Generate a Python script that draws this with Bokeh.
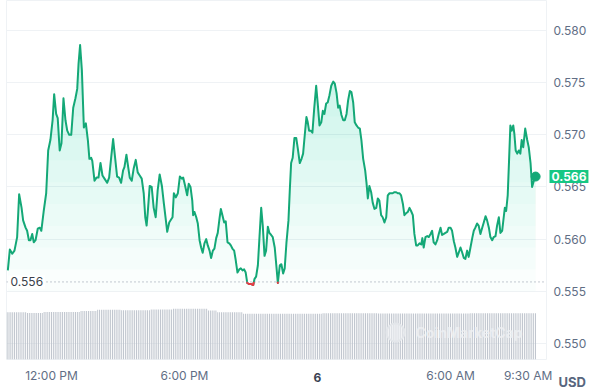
import numpy as np
from bokeh.plotting import figure
from bokeh.models import Range1d, LinearAxis, FixedTicker, Span, Label, Grid, PrintfTickFormatter
from bokeh.embed import file_html
from bokeh.resources import INLINE

# ---- data: hours since midnight of day 5 (24+ = day 6), price in USD ----
time_h = [
    10.03, 10.12, 10.23, 10.33, 10.45, 10.54, 10.65, 10.72, 10.83, 10.90,
    10.98, 11.05, 11.13, 11.20, 11.28, 11.38, 11.47, 11.54, 11.65, 11.76,
    11.85, 11.95, 12.05, 12.12, 12.21, 12.28, 12.37, 12.45, 12.54, 12.63,
    12.71, 12.80, 12.89, 12.98, 13.08, 13.16, 13.22, 13.29, 13.37, 13.46,
    13.55, 13.64, 13.71, 13.79,
    13.84, 13.94, 14.03, 14.12, 14.21, 14.30, 14.39, 14.51, 14.60, 14.69,
    14.78, 14.87, 14.96, 15.05, 15.14, 15.23, 15.29, 15.38, 15.46, 15.53,
    15.62, 15.71, 15.80, 15.89, 15.98, 16.07, 16.16, 16.23, 16.29, 16.34,
    16.43, 16.52, 16.61, 16.70, 16.79, 16.88, 16.98, 17.07, 17.16, 17.22,
    17.31, 17.40, 17.46, 17.52, 17.61, 17.70, 17.79, 17.88, 17.94,
    18.03, 18.12, 18.19, 18.27, 18.35, 18.39, 18.45, 18.53, 18.60, 18.68,
    18.75, 18.82, 18.90, 18.98, 19.05, 19.13, 19.20, 19.28, 19.35, 19.43,
    19.50, 19.58, 19.64, 19.71, 19.79, 19.86, 19.94, 20.02, 20.09, 20.16,
    20.24, 20.31, 20.39, 20.47, 20.54, 20.62, 20.69, 20.76, 20.83, 20.92,
    21.01, 21.10, 21.16, 21.23, 21.31, 21.38, 21.46, 21.53, 21.61, 21.68,
    21.76, 21.83, 21.91, 21.98,
    22.07, 22.15, 22.21, 22.30, 22.37, 22.45, 22.52, 22.60, 22.69, 22.75,
    22.81, 22.88, 22.96, 23.04, 23.11, 23.20, 23.28, 23.35, 23.43, 23.50,
    23.56, 23.62, 23.70, 23.77, 23.85, 23.94, 24.01, 24.09, 24.17, 24.24,
    24.31, 24.39, 24.46, 24.54, 24.62, 24.71, 24.78, 24.86, 24.93, 25.00,
    25.08, 25.16, 25.23, 25.31, 25.38, 25.46, 25.53, 25.61, 25.68, 25.76,
    25.83, 25.91, 25.98,
    26.06, 26.15, 26.21, 26.27, 26.34, 26.42, 26.49, 26.57, 26.65, 26.72,
    26.79, 26.87, 26.94, 27.02, 27.10, 27.17, 27.25, 27.32, 27.39, 27.47,
    27.55, 27.62, 27.70, 27.77, 27.85, 27.92, 28.00, 28.07, 28.15, 28.22,
    28.30, 28.37, 28.45, 28.52, 28.60, 28.68, 28.73, 28.79, 28.87, 28.95,
    29.02, 29.10, 29.17, 29.24, 29.32, 29.40, 29.47, 29.55, 29.62, 29.70,
    29.77, 29.85, 29.92, 30.00,
    30.07, 30.15, 30.22, 30.30, 30.37, 30.45, 30.53, 30.60, 30.67, 30.75,
    30.82, 30.90, 30.98, 31.05, 31.12, 31.20, 31.27, 31.35, 31.43, 31.50,
    31.58, 31.65, 31.73, 31.80, 31.88, 31.95, 32.03, 32.10, 32.18, 32.25,
    32.33, 32.40, 32.45, 32.51, 32.58, 32.64, 32.70, 32.76, 32.83, 32.88,
    32.94, 33.01, 33.08, 33.15, 33.21, 33.28, 33.37, 33.46, 33.53, 33.61,
    33.68, 33.76, 33.84,
]
price = [
    0.5570, 0.5590, 0.5586, 0.5589, 0.5602, 0.5643, 0.5630, 0.5618, 0.5611, 0.5608,
    0.5599, 0.5599, 0.5605, 0.5597, 0.5599, 0.5610, 0.5611, 0.5608, 0.5627, 0.5644,
    0.5685, 0.5695, 0.5714, 0.5739, 0.5720, 0.5716, 0.5685, 0.5692, 0.5735, 0.5714,
    0.5704, 0.5700, 0.5700, 0.5726, 0.5735, 0.5744, 0.5768, 0.5786, 0.5762, 0.5707,
    0.5711, 0.5695, 0.5677, 0.5678,
    0.5675, 0.5656, 0.5659, 0.5659, 0.5673, 0.5661, 0.5658, 0.5654, 0.5659, 0.5678,
    0.5696, 0.5678, 0.5660, 0.5659, 0.5654, 0.5666, 0.5669, 0.5681, 0.5669, 0.5659,
    0.5656, 0.5668, 0.5676, 0.5664, 0.5661, 0.5658, 0.5644, 0.5621, 0.5613, 0.5625,
    0.5651, 0.5650, 0.5630, 0.5621, 0.5647, 0.5662, 0.5651, 0.5634, 0.5618, 0.5607,
    0.5616, 0.5619, 0.5621, 0.5644, 0.5640, 0.5644, 0.5660, 0.5658, 0.5659,
    0.5651, 0.5642, 0.5653, 0.5650, 0.5637, 0.5623, 0.5626, 0.5621, 0.5615, 0.5599,
    0.5592, 0.5587, 0.5596, 0.5600, 0.5594, 0.5589, 0.5582, 0.5589, 0.5591, 0.5601,
    0.5606, 0.5620, 0.5629, 0.5623, 0.5616, 0.5617, 0.5597, 0.5596, 0.5594, 0.5591,
    0.5589, 0.5580, 0.5568, 0.5571, 0.5572, 0.5570, 0.5571, 0.5568, 0.5558, 0.5557,
    0.5557, 0.5556, 0.5562, 0.5564, 0.5575, 0.5601, 0.5630, 0.5613, 0.5584, 0.5589,
    0.5612, 0.5606, 0.5604, 0.5602,
    0.5592, 0.5573, 0.5558, 0.5575, 0.5576, 0.5567, 0.5572, 0.5597, 0.5618, 0.5647,
    0.5673, 0.5678, 0.5697, 0.5697, 0.5687, 0.5673, 0.5677, 0.5682, 0.5701, 0.5717,
    0.5712, 0.5704, 0.5704, 0.5702, 0.5725, 0.5747, 0.5730, 0.5709, 0.5712, 0.5723,
    0.5720, 0.5730, 0.5731, 0.5738, 0.5747, 0.5751, 0.5749, 0.5740, 0.5726, 0.5728,
    0.5719, 0.5714, 0.5714, 0.5720, 0.5733, 0.5742, 0.5741, 0.5731, 0.5712, 0.5709,
    0.5707, 0.5706, 0.5695,
    0.5677, 0.5666, 0.5654, 0.5639, 0.5651, 0.5645, 0.5635, 0.5629, 0.5630, 0.5639,
    0.5637, 0.5623, 0.5621, 0.5616, 0.5621, 0.5642, 0.5644, 0.5644, 0.5644, 0.5645,
    0.5645, 0.5644, 0.5644, 0.5642, 0.5634, 0.5623, 0.5625, 0.5626, 0.5630, 0.5627,
    0.5623, 0.5605, 0.5594, 0.5594, 0.5596, 0.5595, 0.5601, 0.5592, 0.5602, 0.5603,
    0.5602, 0.5605, 0.5608, 0.5597, 0.5595, 0.5599, 0.5605, 0.5611, 0.5604, 0.5605,
    0.5606, 0.5607, 0.5611, 0.5611,
    0.5608, 0.5598, 0.5592, 0.5583, 0.5587, 0.5592, 0.5587, 0.5582, 0.5581, 0.5589,
    0.5583, 0.5592, 0.5601, 0.5608, 0.5611, 0.5615, 0.5613, 0.5605, 0.5611, 0.5616,
    0.5622, 0.5618, 0.5611, 0.5602, 0.5599, 0.5602, 0.5603, 0.5613, 0.5621, 0.5606,
    0.5608, 0.5621, 0.5630, 0.5627, 0.5642, 0.5675, 0.5709, 0.5704, 0.5709, 0.5701,
    0.5685, 0.5682, 0.5685, 0.5682, 0.5695, 0.5688, 0.5706, 0.5695, 0.5688, 0.5673,
    0.5650, 0.5656, 0.5660,
]
assert len(time_h) == len(price)

open_price = 0.5559          # dotted reference line, labelled "0.556"
open_label = "0.556"
last_label = "0.566"

# volume (5-minute bars starting 10:00), arbitrary units
volume = ([47.3] * 11 + [46.5] * 9 + [47.5] * 20 + [48.5] * 9 + [49.8] * 13 +
          [49.2] * 16 + [50.0] * 12 + [50.7] * 19 + [49.0] * 5 + [47.2] * 14 +
          [45.8] * 43 + [46.3] * 30 + [46.0] * 50 + [46.2] * 36)
vol_time = [10.0 + i / 12 for i in range(len(volume))]

y_ticks = [0.550, 0.555, 0.560, 0.565, 0.570, 0.575, 0.580]
x_ticks = [12, 18, 30, 33.5]
x_tick_labels = {12: "12:00 PM", 18: "6:00 PM", 30: "6:00 AM", 33.5: "9:30 AM"}
day_tick = 24
day_label = "6"

FONT = "Inter"
GREEN = "#16c784"
LINE = "#14a877"
RED = "#ea3943"
GRAY = "#616e85"

X0, X1 = 9.97, 34.33
Y0, Y1 = 0.548465, 0.582875
p = figure(frame_width=540, frame_height=359, output_backend="svg", toolbar_location=None,
           x_range=Range1d(X0, X1), y_range=Range1d(Y0, Y1),
           x_axis_location=None, y_axis_location=None,
           min_border_left=6, min_border_top=0, min_border_right=0, min_border_bottom=30,
           background_fill_color="white", border_fill_color="white",
           outline_line_color="#eff2f5")
p.center = [r for r in p.center if not isinstance(r, Grid)]
p.extra_y_ranges = {"vol": Range1d(0, 359)}

p.add_layout(Grid(dimension=1, ticker=FixedTicker(ticks=y_ticks),
                  grid_line_color="#eff2f5", grid_line_width=1))

# volume bars
p.vbar(x=vol_time, top=volume, bottom=0, width=1 / 24, y_range_name="vol",
       fill_color="#bcc2cb", line_color=None)

# gradient-like area under the price line
levels = np.linspace(0.5550, 0.5780, 12)
pr = np.array(price)
for L in levels:
    p.varea(x=time_h, y1=L, y2=np.maximum(pr, L), fill_color=GREEN, fill_alpha=0.02)

# dotted open price line
p.add_layout(Span(location=open_price, dimension="width", line_color="#8a94a6",
                  line_dash="1 3", line_width=1))

p.line(time_h, price, line_color=LINE, line_width=2, line_join="round")

# red parts below open price
below = pr < open_price
xs, ys = [], []
i = 0
n = len(pr)
while i < n:
    if below[i]:
        j = i
        while j + 1 < n and below[j + 1]:
            j += 1
        sx, sy = [], []
        if i > 0:
            t = (pr[i - 1] - open_price) / (pr[i - 1] - pr[i])
            sx.append(time_h[i - 1] + t * (time_h[i] - time_h[i - 1])); sy.append(open_price)
        sx += time_h[i:j + 1]; sy += price[i:j + 1]
        if j + 1 < n:
            t = (open_price - pr[j]) / (pr[j + 1] - pr[j])
            sx.append(time_h[j] + t * (time_h[j + 1] - time_h[j])); sy.append(open_price)
        xs.append(sx); ys.append(sy)
        i = j + 1
    else:
        i += 1
p.multi_line(xs, ys, line_color=RED, line_width=2, line_join="round")

p.scatter([time_h[-1]], [price[-1]], size=9, color=LINE)

# axes
yaxis = LinearAxis(ticker=FixedTicker(ticks=y_ticks), formatter=PrintfTickFormatter(format="%.3f"),
                   axis_line_color=None, major_tick_line_color=None, minor_tick_line_color=None,
                   major_tick_out=0, major_tick_in=0, minor_tick_out=0, minor_tick_in=0,
                   major_label_standoff=7, major_label_text_font=FONT,
                   major_label_text_font_size="12px", major_label_text_color=GRAY)
p.add_layout(yaxis, "right")
xaxis = LinearAxis(ticker=FixedTicker(ticks=x_ticks), major_label_overrides=x_tick_labels,
                   axis_line_color=None, major_tick_line_color=None, minor_tick_line_color=None,
                   major_tick_out=0, major_tick_in=0, minor_tick_out=0, minor_tick_in=0,
                   major_label_standoff=8, major_label_text_font=FONT,
                   major_label_text_font_size="12px", major_label_text_color=GRAY)
p.add_layout(xaxis, "below")

p.add_layout(Label(x=day_tick, y=Y0, y_offset=-13, text=day_label, text_align="center",
                   text_baseline="top", text_font=FONT, text_font_size="12px",
                   text_font_style="bold", text_color="#3a4252"), "below")

p.add_layout(Label(x=X0, y=open_price, x_offset=2, text=open_label, text_baseline="middle",
                   text_font=FONT, text_font_size="12px", text_color="#3a3f4a",
                   background_fill_color="white", padding=2))

p.add_layout(Label(x=X1, y=price[-1], x_offset=3, text=last_label, text_baseline="middle",
                   text_font=FONT, text_font_size="12px", text_font_style="bold",
                   text_color="white", background_fill_color=GREEN, padding=2), "right")

p.add_layout(Label(x=X1, y=Y0, x_offset=12, y_offset=-22, text="USD",
                   text_baseline="middle", text_font=FONT, text_font_size="13px",
                   text_font_style="bold", text_color="#58667e"), "right")

# watermark
p.add_layout(Label(x=28.42, y=27, y_range_name="vol", text="CoinMarketCap", text_baseline="middle",
                   text_font=FONT, text_font_size="14px", text_font_style="bold",
                   text_color="#eef0f3", text_alpha=0.85))
p.scatter([27.52], [27], y_range_name="vol", size=18, fill_color="#eef0f3", fill_alpha=0.6,
          line_color="#e3e6ea", line_width=2)

open("out.html", "w").write(file_html(p, INLINE))
